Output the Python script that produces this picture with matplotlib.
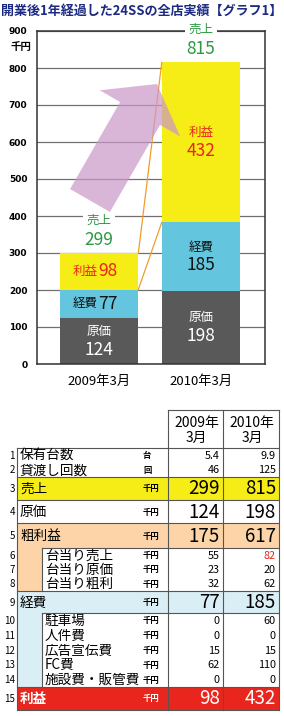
import matplotlib
matplotlib.use('Agg')
import matplotlib.pyplot as plt
from matplotlib.patches import Rectangle, FancyArrow
import numpy as np

plt.rcParams['font.family'] = ['Noto Sans CJK JP', 'DejaVu Sans']

# chart data
years = ['2009年3月', '2010年3月']
cost = [124, 198]
expense = [77, 185]
profit = [98, 432]
sales = [299, 815]

# table data
row_nums = ['1', '2', '3', '4', '5', '6', '7', '8', '9', '10', '11', '12', '13', '14', '15']
row_labels = ['保有台数', '貸渡し回数', '売上', '原価', '粗利益', '台当り売上', '台当り原価',
              '台当り粗利', '経費', '駐車場', '人件費', '広告宣伝費', 'FC費', '施設費・販管費', '利益']
units = ['台', '回', '千円', '千円', '千円', '千円', '千円', '千円', '千円',
         '千円', '千円', '千円', '千円', '千円', '千円']
vals_2009 = ['5.4', '46', '299', '124', '175', '55', '23', '32', '77', '0', '0', '15', '62', '0', '98']
vals_2010 = ['9.9', '125', '815', '198', '617', '82', '20', '62', '185', '60', '0', '15', '110', '0', '432']
col_heads = ['2009年', '2010年']

# colours
c_gray = '#595959'
c_blue = '#64c6de'
c_yellow = '#f6ec16'
c_green = '#2b9a3e'
c_red = '#e8261d'
c_orange = '#f49b2b'

fig = plt.figure(figsize=(2.84, 7.16), dpi=100)

# ---------------- chart ----------------
ax = fig.add_axes([37 / 284, 1 - 364 / 716, 228 / 284, 333 / 716])
x = np.arange(len(years))
w = 0.77
cost = np.array(cost)
expense = np.array(expense)
profit = np.array(profit)

ax.bar(x, cost, w, color=c_gray, zorder=2)
ax.bar(x, expense, w, bottom=cost, color=c_blue, zorder=2)
ax.bar(x, profit, w, bottom=cost + expense, color=c_yellow, zorder=2)

# series lines between bars
ax.plot([x[0] + w / 2, x[1] - w / 2], [cost[0] + expense[0], cost[1] + expense[1]],
        color=c_orange, lw=0.9, zorder=3)
ax.plot([x[0] + w / 2, x[1] - w / 2], [sales[0], sales[1]], color=c_orange, lw=0.9, zorder=3)

ax.set_xlim(-0.608, 1.627)
ax.set_ylim(0, 900)
ax.set_yticks(range(0, 1000, 100))
ax.set_yticklabels([str(v) for v in range(0, 1000, 100)], fontsize=6.5,
                   fontweight='bold', family='DejaVu Sans')
ax.set_xticks(x)
ax.set_xticklabels(years, fontsize=9.5)
ax.tick_params(axis='y', length=0, pad=7)
ax.tick_params(axis='x', length=0, pad=8)
ax.yaxis.grid(True, color='#707070', lw=0.9)
ax.set_axisbelow(True)
for s in ax.spines.values():
    s.set_color('#333333')
    s.set_linewidth(1.1)

px = 0.72  # points per pixel


def two_line(xi, y, lab, num, color):
    ax.annotate(lab, (xi, y), xytext=(0, 9.5 * px), textcoords='offset points',
                ha='center', va='center', fontsize=9, color=color, zorder=5)
    ax.annotate(num, (xi, y), xytext=(0, -8.5 * px), textcoords='offset points',
                ha='center', va='center', fontsize=12.5, color=color, zorder=5)


def inline(xi, y, lab, num, color):
    ax.annotate(lab, (xi, y), xytext=(-1 * px, 0), textcoords='offset points',
                ha='right', va='center', fontsize=9, color=color, zorder=5)
    ax.annotate(num, (xi, y), xytext=(-1 * px, 0), textcoords='offset points',
                ha='left', va='center', fontsize=12.5, color=color, zorder=5)


for i in range(len(years)):
    two_line(x[i], cost[i] / 2, '原価', str(cost[i]), 'white')
    if i == 0:
        inline(x[i], cost[i] + expense[i] / 2, '経費', str(expense[i]), '#111111')
        inline(x[i], cost[i] + expense[i] + profit[i] / 2, '利益', str(profit[i]), c_red)
    else:
        two_line(x[i], cost[i] + expense[i] / 2, '経費', str(expense[i]), '#111111')
        two_line(x[i], cost[i] + expense[i] + profit[i] / 2, '利益', str(profit[i]), c_red)
    box = dict(facecolor='white', edgecolor='none', pad=2.5)
    ax.annotate(str(sales[i]), (x[i], sales[i]), xytext=(0, 13.5 * px), textcoords='offset points',
                ha='center', va='center', fontsize=12.5, color=c_green, bbox=box,
                zorder=6, annotation_clip=False)
    ax.annotate('売上', (x[i], sales[i]), xytext=(0, 33 * px), textcoords='offset points',
                ha='center', va='center', fontsize=9, color=c_green, bbox=box,
                zorder=6, annotation_clip=False)

# ---------------- overlay in pixel coords ----------------
ov = fig.add_axes([0, 0, 1, 1])
ov.set_xlim(0, 284)
ov.set_ylim(716, 0)
ov.axis('off')
ov.set_facecolor('none')

ov.text(1, 11, '開業後1年経過した24SSの全店実績【グラフ1】', fontsize=9.4,
        color='#1c2a82', ha='left', va='center', fontweight='bold')
ov.text(31, 47, '千円', fontsize=7.5, fontweight='bold', ha='right', va='center')

arrow = FancyArrow(90, 200.5, 67, -116.5, width=46, head_width=93, head_length=34,
                   length_includes_head=True, color='#ca97c7', alpha=0.7, lw=0)
ov.add_patch(arrow)

# table layout
heights = [14.5, 14.5, 23, 23, 25, 14.3, 14.3, 14.4, 22, 14.8, 14.8, 14.8, 14.8, 14.8, 23]
big_rows = {2: c_yellow, 3: 'white', 4: '#fcd4a8', 8: '#daeef5', 14: c_red}
sub_groups = {4: [5, 6, 7], 8: [9, 10, 11, 12, 13]}
x_left, x_sub, x_c1, x_c2, x_right = 17, 42, 168, 223, 279
top = 448
tops = top + np.concatenate([[0], np.cumsum(heights)])
line_kw = dict(color='#555555', lw=0.8)

for r, col in big_rows.items():
    ov.add_patch(Rectangle((x_left, tops[r]), x_right - x_left, heights[r], color=col, lw=0))
for r, subs in sub_groups.items():
    y0 = tops[subs[0]]
    y1 = tops[subs[-1] + 1]
    ov.add_patch(Rectangle((x_left, y0), x_sub - x_left, y1 - y0, color=big_rows[r], lw=0))
    ov.plot([x_sub, x_right], [y0, y0], **line_kw)
    ov.plot([x_sub, x_sub], [y0, y1], **line_kw)

for r in [0, 2, 3, 4, 8, 14, 15]:
    ov.plot([x_left, x_right], [tops[r], tops[r]], **line_kw)
ov.plot([x_left, x_left], [tops[0], tops[-1]], **line_kw)
for xc in [x_c1, x_c2, x_right]:
    ov.plot([xc, xc], [410, tops[-1]], **line_kw)
ov.plot([x_c1, x_right], [410, 410], **line_kw)

for j, head in enumerate(col_heads):
    xc = (x_c1 + x_c2) / 2 if j == 0 else (x_c2 + x_right) / 2
    ov.text(xc + 1, 423, head, fontsize=10, ha='center', va='center')
    ov.text(xc + 1, 438, '3月', fontsize=10, ha='center', va='center')

for r in range(len(row_labels)):
    yc = tops[r] + heights[r] / 2 + 0.5
    big = r in big_rows
    sub = any(r in s for s in sub_groups.values())
    tcol = 'white' if r == 14 else 'black'
    ov.text(15, yc, row_nums[r], fontsize=7, ha='right', va='center')
    ov.text(x_sub + 3 if sub else x_left + 3, yc, row_labels[r], fontsize=9.8,
            ha='left', va='center', color=tcol, fontweight='bold' if r == 14 else 'normal')
    ov.text(143, yc, units[r], fontsize=6, fontweight='bold', ha='left', va='center', color=tcol)
    fs = 13.5 if big else 7.8
    c2010 = c_red if r == 5 else tcol
    ov.text(x_c2 - 3, yc, vals_2009[r], fontsize=fs, ha='right', va='center', color=tcol)
    ov.text(x_right - 3, yc, vals_2010[r], fontsize=fs, ha='right', va='center', color=c2010)

fig.savefig('out.png', dpi=100)
